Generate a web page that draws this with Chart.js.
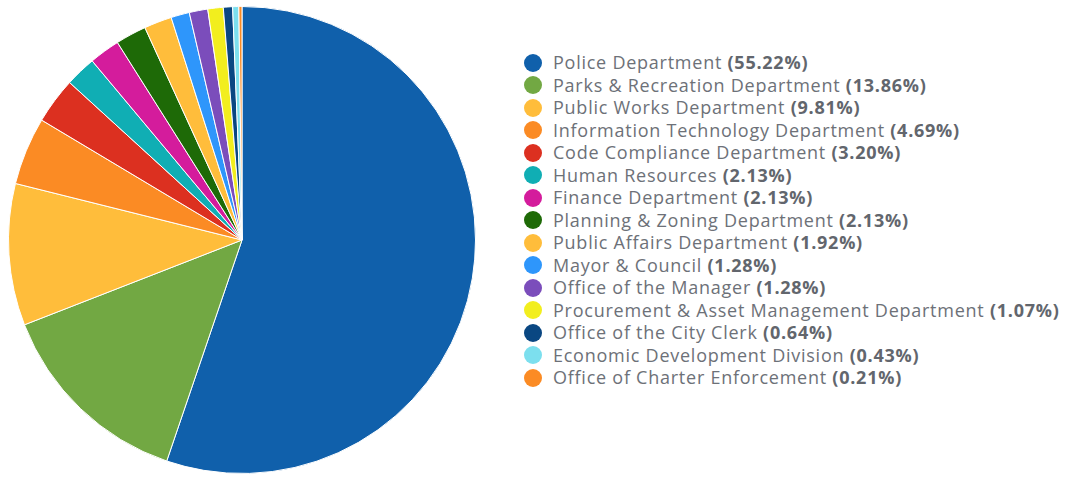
<!DOCTYPE html>
<html>
<head>
<meta charset="utf-8">
<script src="https://cdn.jsdelivr.net/npm/chart.js@4"></script>
<style>
  body { margin: 0; background: #fff; width: 1068px; height: 477px; position: relative; overflow: hidden; }
  #chartBox { position: absolute; left: 8px; top: 6px; width: 468px; height: 468px; }
  #legend { position: absolute; left: 524px; top: 51px; font-family: "Open Sans", sans-serif; font-size: 18px; letter-spacing: 0.75px; color: #6d7178; }
  .row { height: 22.5px; line-height: 22.5px; white-space: nowrap; position: relative; padding-left: 29px; }
  .dot { position: absolute; left: 0; top: 2.5px; width: 18px; height: 18px; border-radius: 50%; }
  .row b { color: #62666d; font-weight: 700; }
</style>
</head>
<body>
<div id="chartBox"><canvas id="pieChart"></canvas></div>
<div id="legend"></div>
<script>
// Departments and their counts (percentages shown in legend)
const departments = [
  "Police Department",
  "Parks & Recreation Department",
  "Public Works Department",
  "Information Technology Department",
  "Code Compliance Department",
  "Human Resources",
  "Finance Department",
  "Planning & Zoning Department",
  "Public Affairs Department",
  "Mayor & Council",
  "Office of the Manager",
  "Procurement & Asset Management Department",
  "Office of the City Clerk",
  "Economic Development Division",
  "Office of Charter Enforcement"
];
const counts = [259, 65, 46, 22, 15, 10, 10, 10, 9, 6, 6, 5, 3, 2, 1];
const colors = [
  "#1060ab", "#72a843", "#ffbd3b", "#fb8b24", "#dc3020",
  "#10aeb4", "#d41c9c", "#1e6a07", "#ffbd3b", "#2e96fb",
  "#7b4dbb", "#f2ee1e", "#0a4782", "#7cdfee", "#fb8b24"
];

const total = counts.reduce((sum, c) => sum + c, 0);

new Chart(document.getElementById("pieChart").getContext("2d"), {
  type: "pie",
  data: {
    labels: departments,
    datasets: [{
      data: counts,
      backgroundColor: colors,
      borderColor: "#ffffff",
      borderWidth: 1
    }]
  },
  options: {
    responsive: true,
    maintainAspectRatio: false,
    animation: false,
    layout: { padding: 0 },
    plugins: {
      legend: { display: false },
      tooltip: { enabled: false }
    }
  }
});

// Build legend with bold percentages
const legendEl = document.getElementById("legend");
legendEl.innerHTML = departments.map((name, i) => {
  const pct = (counts[i] / total * 100).toFixed(2);
  return `<div class="row"><span class="dot" style="background:${colors[i]}"></span>${name} <b>(${pct}%)</b></div>`;
}).join("");
</script>
</body>
</html>
